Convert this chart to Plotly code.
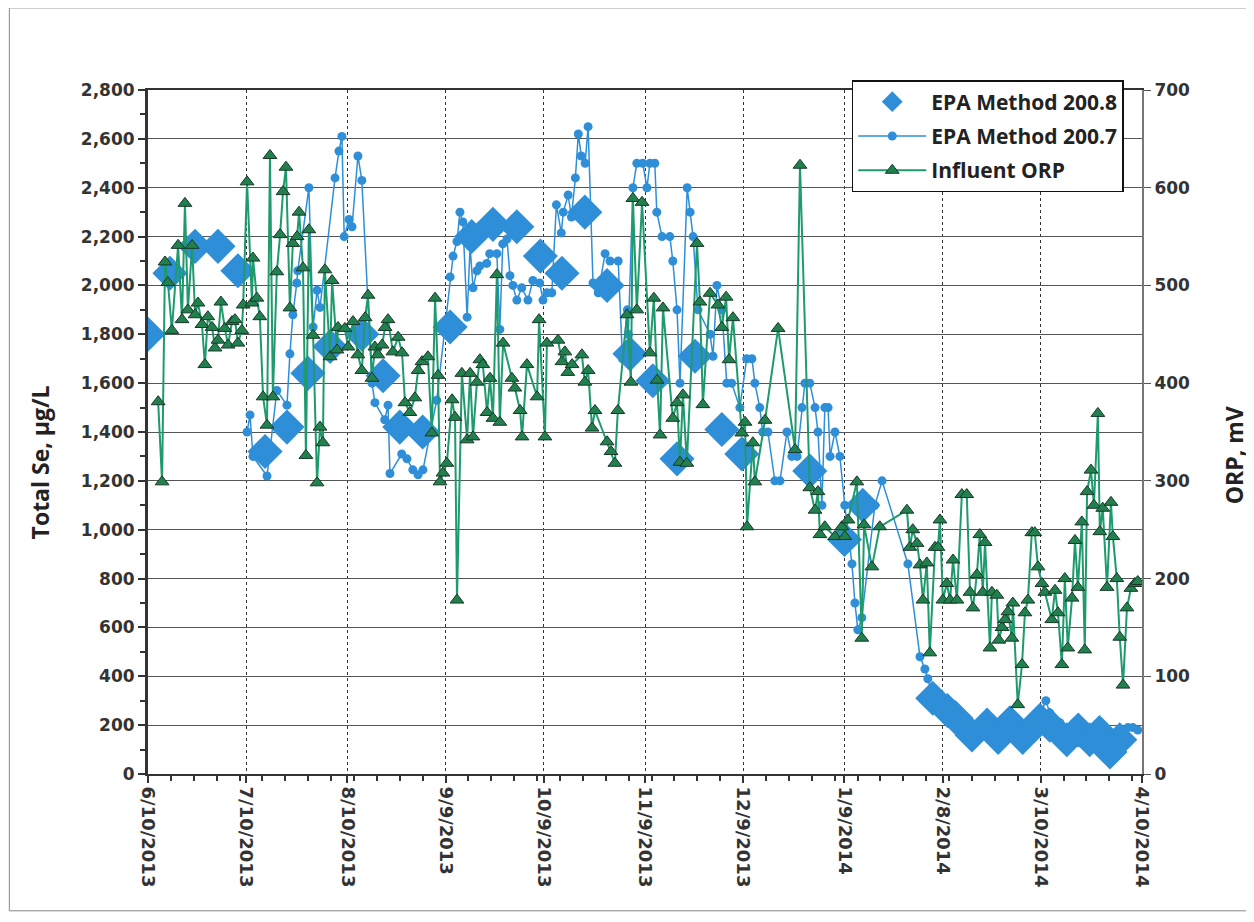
import pandas as pd
import plotly.graph_objects as go

START = pd.Timestamp("2013-06-10")

# ---- EPA Method 200.8 (days since 6/10/2013, total Se ug/L)
m2008_days = [0, 6.7, 14.4, 21.4, 27.5, 35.8, 42.5, 48.9, 55.7, 65.4, 71.9, 77.0, 84.0, 92.4,
              99.0, 105.5, 112.8, 120.0, 126.6, 133.6, 140.4, 147.4, 154.4, 161.8, 167.3,
              175.5, 181.6, 202.4, 213.0, 218.6, 240.0, 244.5, 247.0, 252.0, 256.6, 260.0,
              263.6, 267.5, 272.8, 275.8, 281.0, 284.5, 288.0, 291.0, 294.2, 297.2]
m2008_vals = [1800, 2050, 2160, 2160, 2060, 1320, 1420, 1640, 1750, 1800, 1630, 1420, 1400, 1830,
              2200, 2250, 2240, 2120, 2050, 2300, 2000, 1720, 1610, 1290, 1710,
              1410, 1310, 1240, 960, 1100, 310, 260, 230, 160, 200, 150,
              210, 150, 220, 200, 140, 180, 140, 170, 90, 140]

# ---- EPA Method 200.7
m2007_days = [30.3, 31.2, 32.1, 36.4, 39.4, 42.5, 43.4, 44.3, 45.5, 45.8, 49.2, 50.5, 51.7, 52.6,
              57.2, 58.4, 59.3, 60.0, 61.5, 62.4, 64.2, 65.4, 68.5, 69.4, 72.4, 73.4, 74.0,
              77.6, 79.2, 81.0, 82.6, 84.1, 88.3, 92.4, 93.3, 94.5, 95.4, 96.3, 97.6, 98.5,
              99.4, 100.6, 101.5, 103.6, 104.5, 106.7, 107.6, 108.5, 109.8, 110.7, 111.6,
              112.8, 114.3, 116.2, 117.7, 119.8, 120.8, 122.0, 123.5, 124.9, 126.4, 127.0,
              128.5, 129.5, 130.7, 131.6, 132.5, 133.7, 134.6, 136.1, 137.7, 139.8, 141.3,
              143.8, 145.1, 146.6, 146.9, 148.3, 149.5, 151.3, 152.6, 153.5, 155.0, 155.6,
              157.2, 159.6, 160.5, 161.8, 162.7, 164.9, 165.8, 166.7, 168.2, 171.9, 172.8,
              174.0, 175.5, 177.0, 178.5, 181.0, 183.1, 184.7, 185.6, 187.1, 188.0, 189.6,
              191.7, 193.3, 195.4, 196.9, 198.5, 200.0, 200.9, 202.4, 204.0, 204.9, 206.1,
              207.0, 208.0, 208.6, 210.1, 211.6, 213.1, 215.3, 216.2, 217.1, 218.3, 222.3,
              224.5, 232.4, 236.1, 237.6, 238.5, 240.0, 242.0, 243.7, 245.3, 246.8, 248.3,
              251.4, 254.4, 257.5, 260.5, 263.6, 266.7, 269.7, 272.8, 274.6, 275.8, 278.9,
              281.9, 285.0, 288.0, 291.1, 294.2, 297.2, 299.7, 301.2, 302.7]
m2007_vals = [1400, 1470, 1300, 1220, 1570, 1510, 1720, 1880, 2010, 2060, 2400, 1830, 1980, 1910,
              2440, 2550, 2610, 2200, 2270, 2240, 2530, 2430, 1600, 1520, 1450, 1510, 1230,
              1310, 1290, 1245, 1225, 1245, 1530, 2035, 2120, 2180, 2300, 2260, 1870, 2160,
              1990, 2060, 2080, 2090, 2130, 2130, 1820, 2170, 2190, 2040, 2000,
              1940, 1990, 1940, 2020, 2010, 1940, 1970, 1970, 2330, 2215, 2300,
              2370, 2280, 2440, 2620, 2530, 2500, 2650, 2010, 1970, 2130, 2100,
              2100, 1700, 1900, 1800, 2400, 2500, 2500, 2400, 2500, 2500, 2300,
              2200, 2200, 2100, 1900, 1600, 2400, 2300, 2200, 1900, 1800, 1710,
              2000, 1900, 1600, 1600, 1500, 1700, 1700, 1600, 1500, 1400, 1400,
              1200, 1200, 1400, 1300, 1300, 1500, 1600, 1600, 1500, 1400, 1100,
              1500, 1500, 1300, 1400, 1300, 1100, 860, 700, 590, 640, 1100,
              1200, 860, 480, 430, 390, 320, 280, 260, 250, 220, 210,
              200, 190, 200, 180, 200, 190, 200, 240, 300, 250, 210,
              180, 170, 160, 180, 170, 180, 190, 190, 180]

# ---- Influent ORP (mV)
orp_days = [3.1, 4.3, 5.2, 6.1, 7.3, 9.2, 10.4, 11.3, 12.2, 13.5, 14.4, 15.3, 16.5, 17.4, 18.3,
            19.6, 20.5, 21.4, 22.3, 23.5, 24.5, 25.7, 26.6, 27.5, 28.7, 29.1, 30.3, 31.8, 32.1,
            33.3, 34.2, 35.2, 36.4, 37.3, 38.2, 39.4, 40.4, 41.3, 42.2, 43.4, 44.3, 45.6, 46.2,
            47.4, 48.3, 49.2, 50.5, 51.7, 52.6, 53.5, 54.1, 55.7, 56.3, 57.8, 58.1, 60.2, 61.2,
            62.7, 64.2, 65.4, 66.4, 67.3, 68.5, 69.4, 70.3, 71.6, 72.5, 73.4, 74.9, 76.5, 77.7,
            78.6, 80.1, 81.6, 82.6, 83.8, 85.6, 86.8, 87.8, 88.7, 89.3, 90.2, 91.4, 93.0, 93.9,
            94.5, 96.0, 97.6, 98.5, 99.4, 100.6, 101.5, 102.4, 103.7, 104.6, 105.5, 106.7,
            107.6, 108.6, 111.3, 112.2, 113.8, 114.4, 115.9, 119.0, 119.6, 121.4, 122.0, 125.4,
            126.6, 127.5, 128.4, 129.7, 132.7, 133.6, 134.6, 135.8, 136.7, 140.4, 141.6, 142.8,
            143.7, 146.5, 147.7, 148.3, 149.5, 151.1, 153.5, 154.7, 155.7, 156.6, 157.5, 160.5,
            161.8, 162.7, 163.6, 164.8, 167.9, 168.8, 169.7, 171.9, 174.3, 175.5, 176.8, 177.7,
            178.9, 181.6, 182.6, 183.2, 185.0, 185.6, 188.7, 192.7, 197.9, 199.4, 202.4, 204.0,
            204.9, 205.5, 207.0, 210.1, 212.2, 213.1, 214.1, 216.8, 218.3, 219.0, 221.4, 223.8,
            232.1, 233.0, 233.9, 235.2, 236.1, 237.0, 238.2, 239.1, 240.7, 241.6, 242.2, 243.1,
            244.3, 245.3, 246.2, 247.4, 248.9, 250.4, 251.4, 252.3, 253.5, 254.4, 255.3, 256.0,
            257.5, 258.1, 259.6, 260.2, 261.2, 262.1, 263.0, 264.2, 264.5, 266.0, 267.3, 268.2,
            269.1, 270.3, 271.2, 272.2, 273.4, 274.3, 276.4, 277.4, 278.3, 279.5, 280.4, 281.3,
            282.6, 283.5, 284.4, 285.6, 286.5, 287.2, 288.4, 289.3, 290.5, 291.1, 292.0, 293.3,
            294.5, 295.1, 296.3, 297.2, 298.2, 299.4, 300.6, 301.8, 302.7]
orp_vals = [381, 299, 524, 503, 454, 541, 465, 584, 475, 541, 470, 482, 460, 419, 468,
            457, 436, 444, 483, 456, 439, 463, 465, 441, 454, 480, 606, 482, 528,
            487, 468, 386, 357, 633, 386, 514, 552, 596, 621, 477, 543, 550, 575,
            518, 326, 557, 449, 298, 355, 339, 516, 427, 505, 434, 457, 456, 437,
            463, 429, 413, 467, 490, 405, 437, 429, 439, 457, 465, 432, 447, 431,
            380, 370, 385, 413, 422, 427, 349, 487, 408, 299, 308, 318, 383, 365,
            178, 410, 342, 410, 345, 401, 424, 419, 370, 405, 364, 511,
            360, 441, 405, 395, 372, 345, 419, 386, 465, 345, 441, 444,
            422, 432, 411, 419, 429, 401, 413, 354, 372, 340, 330, 318,
            372, 470, 401, 589, 475, 585, 431, 487, 403, 347, 477, 364,
            380, 319, 388, 318, 543, 483, 378, 492, 480, 457, 488, 424,
            467, 349, 360, 253, 339, 299, 362, 456, 332, 623, 293, 270,
            289, 245, 253, 243, 253, 243, 260, 299, 139, 255, 212, 253,
            270, 232, 250, 236, 214, 178, 216, 124, 232, 232, 260, 178,
            195, 178, 219, 178, 286, 286, 186, 170, 204, 245, 186, 237,
            129, 186, 183, 137, 150, 158, 166, 139, 175, 71, 112, 165,
            178, 247, 247, 212, 195, 186, 158, 188, 165, 112, 200, 129,
            180, 239, 191, 258, 127, 289, 311, 275, 369, 248, 272, 191,
            278, 243, 200, 140, 91, 170, 190, 195, 197]

tick_dates = ["2013-06-10", "2013-07-10", "2013-08-10", "2013-09-09", "2013-10-09",
              "2013-11-09", "2013-12-09", "2014-01-09", "2014-02-08", "2014-03-10", "2014-04-10"]
tick_labels = ["6/10/2013", "7/10/2013", "8/10/2013", "9/9/2013", "10/9/2013",
               "11/9/2013", "12/9/2013", "1/9/2014", "2/8/2014", "3/10/2014", "4/10/2014"]


def to_dates(days):
    return [START + pd.Timedelta(days=d) for d in days]


BLUE = "#2E8FD8"
GREEN_LINE = "#1E9A6C"
GREEN_FILL = "#22804F"

fig = go.Figure()
fig.add_trace(go.Scatter(
    x=to_dates(m2008_days), y=m2008_vals, name="EPA Method 200.8", mode="markers",
    marker=dict(symbol="diamond", size=27, color=BLUE, line=dict(width=0)),
    legendgroup="a"))
fig.add_trace(go.Scatter(
    x=to_dates(m2007_days), y=m2007_vals, name="EPA Method 200.7", mode="lines+markers",
    line=dict(color=BLUE, width=1.5),
    marker=dict(symbol="circle", size=9, color=BLUE),
    legendgroup="b"))
fig.add_trace(go.Scatter(
    x=to_dates(orp_days), y=orp_vals, name="Influent ORP", mode="lines+markers", yaxis="y2",
    line=dict(color=GREEN_LINE, width=2),
    marker=dict(symbol="triangle-up", size=12, color=GREEN_FILL, line=dict(color="#173826", width=1)),
    legendgroup="c"))

TICKFONT = dict(family="DejaVu Sans", size=17, color="#333333", weight="bold")
TITLEFONT = dict(family="Open Sans", size=23, color="#222222", weight="bold")
FRAME = dict(color="#888888", width=1)

fig.update_layout(
    width=1246, height=914,
    margin=dict(l=140, r=112, t=82, b=148),
    paper_bgcolor="white", plot_bgcolor="white",
    showlegend=True,
    legend=dict(x=0.708, y=1.0146, xanchor="left", yanchor="top",
                bgcolor="white", bordercolor="#111111", borderwidth=1.5,
                font=dict(family="Open Sans", size=21, color="#222222", weight="bold"),
                tracegroupgap=4, itemwidth=68),
    xaxis=dict(
        type="date",
        range=[START, pd.Timestamp("2014-04-10")],
        tickvals=tick_dates, ticktext=tick_labels, tickangle=90,
        tickfont=dict(family="DejaVu Sans", size=18, color="#333333", weight="bold"),
        showgrid=True, gridcolor="#333333", gridwidth=1, griddash="dot",
        showline=True, linecolor="#333333", linewidth=2, mirror=True,
        ticks="outside", ticklen=7, tickcolor="#333333", tickwidth=2,
        minor=dict(ticks="outside", ticklen=5, tickcolor="#333333", tickwidth=2,
                   dtick=7 * 86400000, tick0="2013-06-10", showgrid=False),
        zeroline=False,
    ),
    yaxis=dict(
        range=[0, 2800], dtick=200, tickformat=",d",
        tickfont=TICKFONT,
        showgrid=True, gridcolor="#555555", gridwidth=1,
        showline=True, linecolor="#333333", linewidth=3,
        ticks="outside", ticklen=7, tickcolor="#333333", tickwidth=2,
        minor=dict(ticks="outside", ticklen=5, tickcolor="#333333", tickwidth=2, dtick=100,
                   showgrid=False),
        zeroline=False,
    ),
    yaxis2=dict(
        range=[0, 700], dtick=100, overlaying="y", side="right",
        tickfont=TICKFONT, showgrid=False,
        showline=True, linecolor="#777777", linewidth=2,
        ticks="outside", ticklen=7, tickcolor="#555555", tickwidth=1,
        zeroline=False,
    ),
    annotations=[
        dict(text="Total Se, μg/L", xref="paper", yref="paper", x=-0.109, y=0.455,
             xanchor="center", yanchor="middle",
             textangle=-90, showarrow=False, font=TITLEFONT),
        dict(text="ORP, mV", xref="paper", yref="paper", x=1.0925, y=0.466,
             xanchor="center", yanchor="middle",
             textangle=-90, showarrow=False, font=TITLEFONT),
    ],
    shapes=[
        dict(type="line", xref="paper", yref="paper", x0=-0.1395, x1=-0.1395, y0=-0.2, y1=1.12, line=FRAME),
        dict(type="line", xref="paper", yref="paper", x0=-0.1395, x1=1.105, y0=1.12, y1=1.12, line=FRAME),
        dict(type="line", xref="paper", yref="paper", x0=-0.1395, x1=1.105, y0=-0.2, y1=-0.2, line=FRAME),
    ],
)

fig.write_html("out.html")
